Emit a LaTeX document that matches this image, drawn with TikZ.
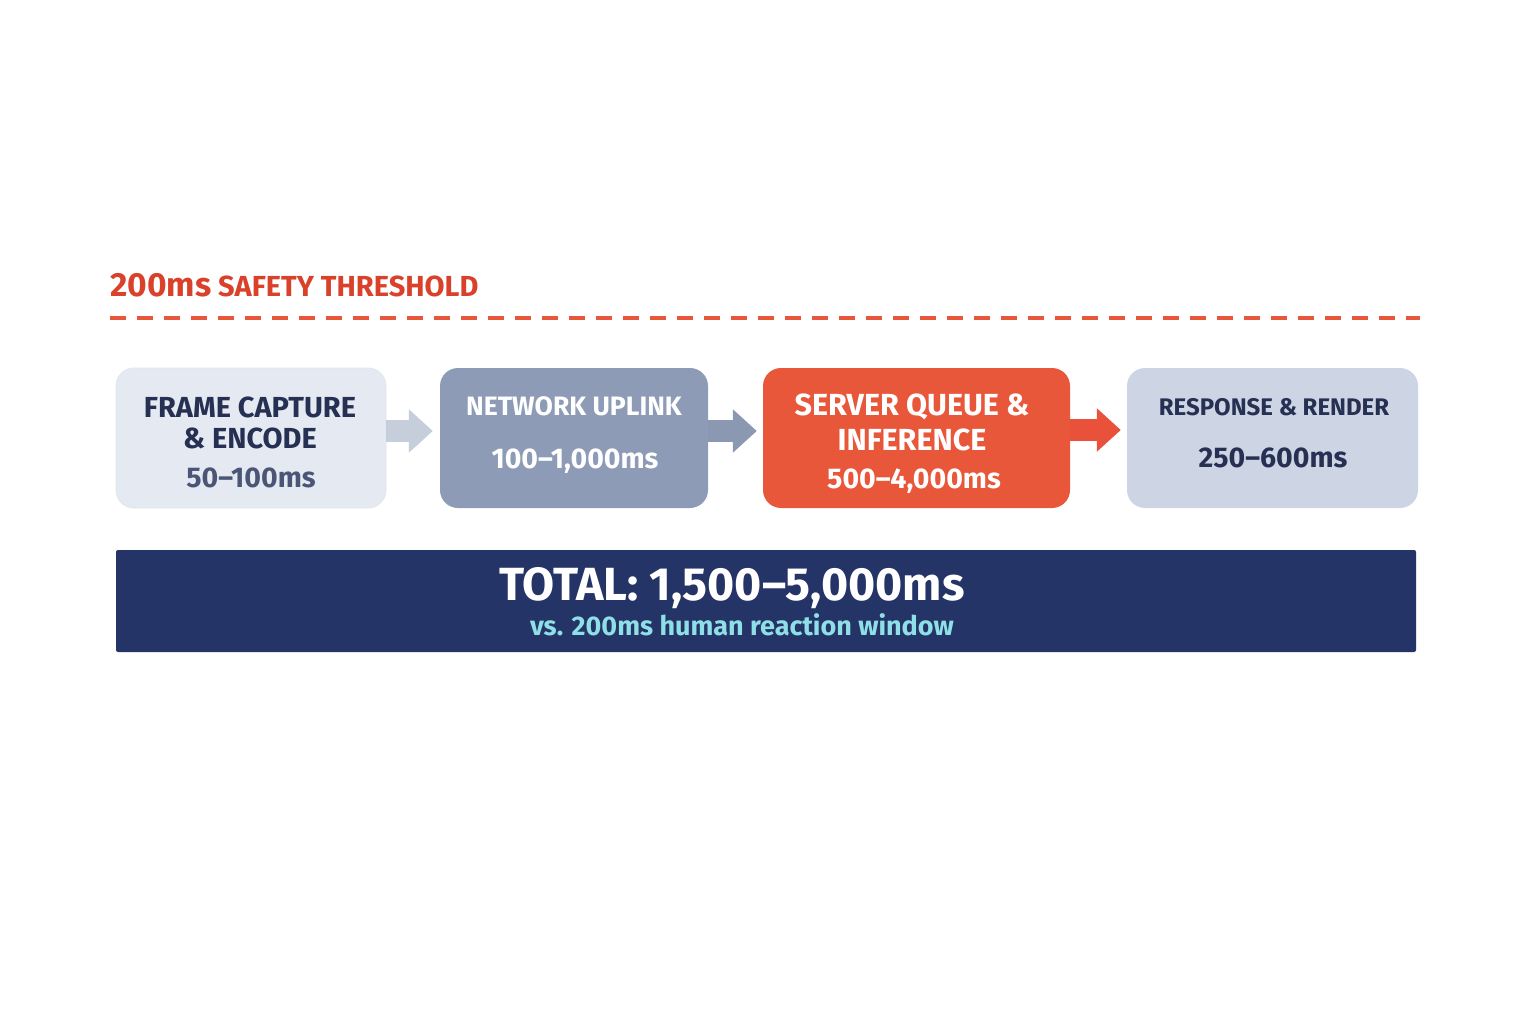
\documentclass[tikz,border=0pt]{standalone}
\usepackage{fontspec}
\setmainfont{Fira Sans}
\usetikzlibrary{arrows.meta}
\definecolor{titlered}{HTML}{D9412B}
\definecolor{dashred}{HTML}{E8573B}
\definecolor{boxA}{HTML}{E5E9F2}
\definecolor{boxB}{HTML}{8D9BB6}
\definecolor{boxC}{HTML}{E9573A}
\definecolor{boxD}{HTML}{CDD4E3}
\definecolor{arrA}{HTML}{C6CEDC}
\definecolor{arrB}{HTML}{8A98B2}
\definecolor{arrC}{HTML}{E9513A}
\definecolor{navytext}{HTML}{263052}
\definecolor{greytext}{HTML}{4B5677}
\definecolor{barnavy}{HTML}{243466}
\definecolor{cyantext}{HTML}{8EDFE6}
\tikzset{
  stagebox/.style={rounded corners=18pt, minimum height=140pt, inner sep=0pt},
  lbl/.style={anchor=base, inner sep=0pt, font=\bfseries\fontsize{29}{32}\selectfont},
  timelbl/.style={anchor=base, inner sep=0pt, font=\bfseries\fontsize{28.5}{32}\selectfont},
  flowarrow/.style={line width=22pt, -{Triangle[length=24pt,width=42pt]}},
}
\begin{document}
\begin{tikzpicture}[x=1pt,y=-1pt]
\useasboundingbox (0,0) rectangle (1536,1024);
\fill[white] (0,0) rectangle (1536,1024);

% threshold
\node[anchor=base west, inner sep=0pt, text=titlered, font=\bfseries] (thr) at (110,297)
  {{\fontsize{33.5}{36}\selectfont 200ms}\hspace{7pt}{\fontsize{29}{32}\selectfont SAFETY THRESHOLD}};
\coordinate (dl) at (110,318);
\coordinate (dr) at (1420,318);
\draw[dashred, line width=3.5pt, dash pattern=on 16pt off 11pt] (dl) -- (dr);

% boxes
\node[stagebox, fill=boxA, draw=boxD!60, line width=0.8pt, minimum width=270pt] (b1) at (251,438) {};
\node[stagebox, fill=boxB, minimum width=268pt] (b2) at (574,438) {};
\node[stagebox, fill=boxC, minimum width=307pt] (b3) at (916.5,438) {};
\node[stagebox, fill=boxD, minimum width=291pt] (b4) at (1272.5,438) {};

% arrows
\draw[flowarrow, arrA, shorten >=7pt] ([yshift=7pt]b1.east) -- ([yshift=7pt]b2.west);
\draw[flowarrow, arrB, shorten >=6pt] ([yshift=7pt]b2.east) -- ([yshift=7pt]b3.west);
\draw[flowarrow, arrC, shorten >=6pt] ([yshift=8pt]b3.east) -- ([yshift=8pt]b4.west);

% box texts
\node[lbl, text=navytext] (t1a) at (250,417) {FRAME CAPTURE};
\node[lbl, text=navytext] (t1b) at (250,448) {\& ENCODE};
\node[timelbl, text=greytext] (t1c) at (251,487) {50–100ms};

\node[lbl, text=white, font=\bfseries\fontsize{26.6}{30}\selectfont] (t2a) at (574,415) {NETWORK UPLINK};
\node[timelbl, text=white] (t2b) at (575,468) {100–1,000ms};

\node[lbl, text=white, font=\bfseries\fontsize{30.5}{34}\selectfont] (t3a) at (912,415) {SERVER QUEUE \&};
\node[lbl, text=white, font=\bfseries\fontsize{30.5}{34}\selectfont] (t3b) at (912,450) {INFERENCE};
\node[timelbl, text=white] (t3c) at (914,488) {500–4,000ms};

\node[lbl, text=navytext, font=\bfseries\fontsize{24}{28}\selectfont] (t4a) at (1274,415) {RESPONSE \& RENDER};
\node[timelbl, text=navytext] (t4b) at (1273,467) {250–600ms};

% total bar
\node[fill=barnavy, rounded corners=2pt, minimum width=1300pt, minimum height=102pt, inner sep=0pt] (bar) at (766,601) {};
\node[anchor=base, inner sep=0pt, text=white, font=\bfseries\fontsize{46.5}{50}\selectfont] (tot) at (732,600) {TOTAL: 1,500–5,000ms};
\node[anchor=base, inner sep=0pt, text=cyantext, font=\bfseries\fontsize{27}{30}\selectfont] (vs) at (742,635) {vs. 200ms human reaction window};
\end{tikzpicture}
\end{document}
